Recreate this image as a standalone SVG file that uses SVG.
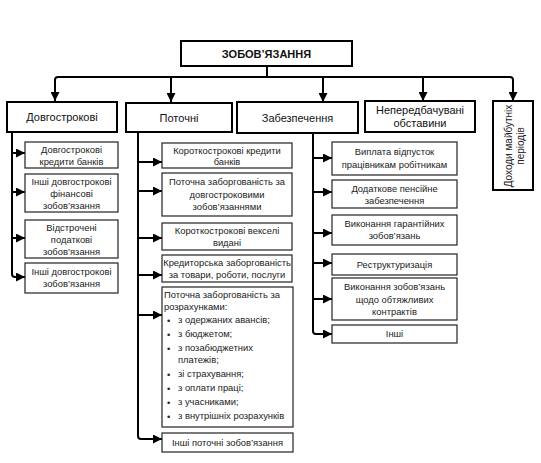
<svg xmlns="http://www.w3.org/2000/svg" width="541" height="463" viewBox="0 0 541 463">
<style>
text{font-family:"Liberation Sans",Arial,sans-serif;fill:#111}
.t{font-size:9.4px;text-anchor:middle;fill:#222}
.l{font-size:9.4px;fill:#222}
.h{font-size:11px;text-anchor:middle}
.r{font-size:10px;text-anchor:middle;fill:#222}
.big{fill:#fff;stroke:#000;stroke-width:2}
.sm{fill:#fff;stroke:#222;stroke-width:1.2}
.c{fill:none;stroke:#000;stroke-width:2}
</style>
<defs>
<marker id="a" viewBox="0 0 10 10" refX="10" refY="5" markerWidth="9" markerHeight="9" markerUnits="userSpaceOnUse" orient="auto"><path d="M0,0 L10,5 L0,10 z" fill="#000"/></marker>
</defs>
<rect width="541" height="463" fill="#fff"/>
<g id="connectors">
<path class="c" d="M267,66 V77"/>
<path class="c" d="M55,101 V80 Q55,77 58,77 H510 Q513,77 513,80 V101" marker-end="url(#a)"/>
<path class="c" d="M55,90 V101" marker-end="url(#a)"/>
<path class="c" d="M171,77 V102" marker-end="url(#a)"/>
<path class="c" d="M323,77 V102" marker-end="url(#a)"/>
<path class="c" d="M423,77 V101" marker-end="url(#a)"/>
<path class="c" d="M12,132 V274 Q12,277 15,277 H25" marker-end="url(#a)"/>
<path class="c" d="M12,153 H25" marker-end="url(#a)"/>
<path class="c" d="M12,192 H25" marker-end="url(#a)"/>
<path class="c" d="M12,238 H25" marker-end="url(#a)"/>
<path class="c" d="M138,132 V436 Q138,439 141,439 H162" marker-end="url(#a)"/>
<path class="c" d="M138,162 H162" marker-end="url(#a)"/>
<path class="c" d="M138,191 H162" marker-end="url(#a)"/>
<path class="c" d="M138,238 H162" marker-end="url(#a)"/>
<path class="c" d="M138,275 H162" marker-end="url(#a)"/>
<path class="c" d="M138,315 H162" marker-end="url(#a)"/>
<path class="c" d="M313,133 V331 Q313,334 316,334 H332" marker-end="url(#a)"/>
<path class="c" d="M313,158 H332" marker-end="url(#a)"/>
<path class="c" d="M313,192 H332" marker-end="url(#a)"/>
<path class="c" d="M313,233 H332" marker-end="url(#a)"/>
<path class="c" d="M313,263 H332" marker-end="url(#a)"/>
<path class="c" d="M313,299 H332" marker-end="url(#a)"/>
</g>
<g id="root"><rect class="big" x="181" y="41" width="171" height="25"/><text class="h" x="266.5" y="57.5" font-weight="bold" font-size="10.5">ЗОБОВ’ЯЗАННЯ</text></g>
<g id="dovho"><rect class="big" x="7" y="102" width="110" height="30"/><text class="h" x="62" y="121">Довгострокові</text></g>
<g id="potochni"><rect class="big" x="126" y="103" width="106" height="29"/><text class="h" x="179" y="121.5">Поточні</text></g>
<g id="zabezp"><rect class="big" x="237" y="102" width="121" height="31"/><text class="h" x="297.5" y="121.5">Забезпечення</text></g>
<g id="neperedb"><rect class="big" x="365" y="101" width="110" height="31"/><text class="h" x="420" y="114" font-size="10">Непередбачувані</text><text class="h" x="420" y="127" font-size="10">обставини</text></g>
<g id="dokhody"><rect class="big" x="493" y="101" width="40" height="89"/><text class="r" transform="translate(513,146) rotate(-90)" x="0" y="-1">Доходи майбутніх</text><text class="r" transform="translate(513,146) rotate(-90)" x="0" y="11">періодів</text></g>

<g id="d1"><rect class="sm" x="25" y="142" width="93" height="26"/><text class="t" x="71.5" y="153">Довгострокові</text><text class="t" x="71.5" y="165">кредити банків</text></g>
<g id="d2"><rect class="sm" x="25" y="174" width="93" height="38"/><text class="t" x="71.5" y="184.5">Інші довгострокові</text><text class="t" x="71.5" y="196.5">фінансові</text><text class="t" x="71.5" y="208.5">зобов’язання</text></g>
<g id="d3"><rect class="sm" x="25" y="220" width="93" height="38"/><text class="t" x="71.5" y="230.5">Відстрочені</text><text class="t" x="71.5" y="242.5">податкові</text><text class="t" x="71.5" y="254.5">зобов’язання</text></g>
<g id="d4"><rect class="sm" x="25" y="263" width="93" height="30"/><text class="t" x="71.5" y="275">Інші довгострокові</text><text class="t" x="71.5" y="287">зобов’язання</text></g>

<g id="p1"><rect class="sm" x="162" y="143" width="130" height="25"/><text class="t" x="227" y="153.5">Короткострокові кредити</text><text class="t" x="227" y="165">банків</text></g>
<g id="p2"><rect class="sm" x="162" y="173" width="130" height="43"/><text class="t" x="227" y="185">Поточна заборгованість за</text><text class="t" x="227" y="197.5">довгостроковими</text><text class="t" x="227" y="210">зобов’язаннями</text></g>
<g id="p3"><rect class="sm" x="162" y="223" width="130" height="27"/><text class="t" x="227" y="234">Короткострокові векселі</text><text class="t" x="227" y="246">видані</text></g>
<g id="p4"><rect class="sm" x="162" y="255" width="130" height="27"/><text class="t" x="227" y="266">Кредиторська заборгованість</text><text class="t" x="227" y="278">за товари, роботи, послуги</text></g>
<g id="p5"><rect class="sm" x="162" y="287" width="131" height="140"/>
<text class="l" x="164" y="298">Поточна заборгованість за</text>
<text class="l" x="164" y="310">розрахунками:</text>
<text class="l" x="167" y="324">•</text><text class="l" x="178" y="323">з одержаних авансів;</text>
<text class="l" x="167" y="338">•</text><text class="l" x="178" y="337">з бюджетом;</text>
<text class="l" x="167" y="352">•</text><text class="l" x="178" y="351">з позабюджетних</text><text class="l" x="178" y="363">платежів;</text>
<text class="l" x="167" y="378">•</text><text class="l" x="178" y="377">зі страхування;</text>
<text class="l" x="167" y="392">•</text><text class="l" x="178" y="391">з оплати праці;</text>
<text class="l" x="167" y="406">•</text><text class="l" x="178" y="405">з учасниками;</text>
<text class="l" x="167" y="420">•</text><text class="l" x="178" y="419">з внутрішніх розрахунків</text></g>
<g id="p6"><rect class="sm" x="162" y="433" width="131" height="19"/><text class="t" x="227.5" y="445.5">Інші поточні зобов’язання</text></g>

<g id="z1"><rect class="sm" x="332" y="142" width="125" height="33"/><text class="t" x="394.5" y="155">Виплата відпусток</text><text class="t" x="394.5" y="167.5">працівникам робітникам</text></g>
<g id="z2"><rect class="sm" x="332" y="180" width="125" height="28"/><text class="t" x="394.5" y="191.5">Додаткове пенсійне</text><text class="t" x="394.5" y="203.5">забезпечення</text></g>
<g id="z3"><rect class="sm" x="332" y="215" width="125" height="30"/><text class="t" x="394.5" y="227">Виконання гарантійних</text><text class="t" x="394.5" y="239">зобов’язань</text></g>
<g id="z4"><rect class="sm" x="332" y="254" width="125" height="21"/><text class="t" x="394.5" y="267.5">Реструктуризація</text></g>
<g id="z5"><rect class="sm" x="332" y="278" width="125" height="42"/><text class="t" x="394.5" y="290">Виконання зобов’язань</text><text class="t" x="394.5" y="302.5">щодо обтяжливих</text><text class="t" x="394.5" y="315">контрактів</text></g>
<g id="z6"><rect class="sm" x="332" y="325" width="125" height="18"/><text class="t" x="394.5" y="337">Інші</text></g>
</svg>
